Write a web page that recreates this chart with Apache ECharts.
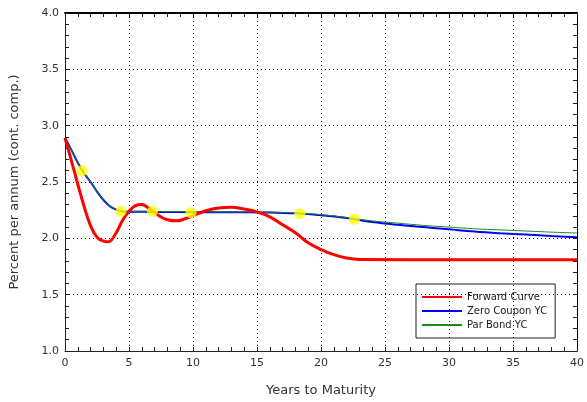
<!DOCTYPE html>
<html>
<head>
<meta charset="utf-8">
<script src="https://cdn.jsdelivr.net/npm/echarts@6/dist/echarts.min.js"></script>
<style>
  html, body { margin: 0; padding: 0; background: #fff; }
  #chart { width: 587px; height: 402px; }
</style>
</head>
<body>
<div id="chart"></div>
<script>
// yield curve data
const fwdYears = [0, 0.5, 1, 1.5, 2, 2.5, 3, 3.4, 4, 4.5, 5, 5.5, 6, 6.5, 7, 7.5, 8, 8.7, 9.3, 10, 11, 12, 13, 14, 15, 16, 17, 18, 19, 20, 21, 22, 23, 30, 40];
const fwdRates = [2.89, 2.69, 2.48, 2.28, 2.11, 2.01, 1.975, 1.97, 2.05, 2.16, 2.24, 2.29, 2.30, 2.27, 2.23, 2.19, 2.165, 2.155, 2.17, 2.20, 2.245, 2.27, 2.275, 2.26, 2.235, 2.19, 2.12, 2.05, 1.96, 1.90, 1.855, 1.825, 1.812, 1.81, 1.81];

const zeroYears = [0, 0.5, 1, 1.5, 2, 2.5, 3, 3.5, 4, 4.5, 5, 6, 8, 10, 12, 14, 16, 18, 20, 22, 24, 26, 28, 30, 32, 34, 36, 38, 40];
const zeroRates = [2.89, 2.785, 2.67, 2.575, 2.50, 2.415, 2.34, 2.285, 2.255, 2.238, 2.235, 2.235, 2.234, 2.232, 2.232, 2.232, 2.23, 2.222, 2.205, 2.18, 2.145, 2.12, 2.10, 2.08, 2.06, 2.045, 2.033, 2.02, 2.01];

const parYears = [0, 0.5, 1, 1.5, 2, 2.5, 3, 3.5, 4, 4.5, 5, 6, 8, 10, 12, 14, 16, 18, 20, 22, 24, 26, 28, 30, 32, 34, 36, 38, 40];
const parRates = [2.89, 2.785, 2.67, 2.575, 2.50, 2.415, 2.34, 2.285, 2.258, 2.242, 2.24, 2.24, 2.238, 2.236, 2.235, 2.234, 2.232, 2.225, 2.21, 2.185, 2.155, 2.135, 2.115, 2.10, 2.085, 2.075, 2.065, 2.055, 2.047];

const bondYears = [1.33, 4.37, 6.84, 9.85, 18.35, 22.6];
const bondRates = [2.60, 2.24, 2.24, 2.227, 2.219, 2.17];

const xTicks = [0, 5, 10, 15, 20, 25, 30, 35, 40];
const yTicks = ['1.0', '1.5', '2.0', '2.5', '3.0', '3.5', '4.0'];

const pairs = (xs, ys) => xs.map((x, i) => [x, ys[i]]);

const chart = echarts.init(document.getElementById('chart'));

const font = 'DejaVu Sans';

const baseAxis = {
  type: 'value',
  axisLine: { show: true, onZero: false, lineStyle: { color: '#222', width: 1 } },
  axisTick: { show: true, inside: true, length: 4, lineStyle: { color: '#222' } },
  minorTick: { show: true, splitNumber: 5, length: 4, lineStyle: { color: '#222' } },
  splitLine: { show: false }
};

const noSymbol = { opacity: 0 };

const option = {
  backgroundColor: '#fff',
  animation: false,
  grid: { left: 64, right: 10, top: 13, bottom: 46 },
  legend: {
    orient: 'vertical',
    left: 416,
    top: 284,
    padding: [8, 8, 8, 5],
    itemGap: 4,
    itemWidth: 40,
    itemHeight: 10,
    borderColor: '#222',
    borderWidth: 1,
    textStyle: { fontFamily: font, fontSize: 10, color: '#222' },
    data: [
      { name: 'Forward Curve', itemStyle: noSymbol },
      { name: 'Zero Coupon YC', itemStyle: noSymbol },
      { name: 'Par Bond YC', itemStyle: noSymbol }
    ]
  },
  xAxis: [
    Object.assign({}, baseAxis, {
      min: 0, max: 40, interval: 5,
      name: 'Years to Maturity',
      nameLocation: 'middle',
      nameGap: 33,
      nameTextStyle: { fontFamily: font, fontSize: 13, color: '#333' },
      axisLabel: {
        margin: 7, fontFamily: font, fontSize: 11, color: '#333',
        formatter: v => (xTicks.indexOf(v) >= 0 ? String(v) : '')
      },
      splitLine: { show: true, lineStyle: { color: '#000', type: [1, 3], width: 1 } }
    }),
    Object.assign({}, baseAxis, {
      min: 0, max: 40, interval: 5, position: 'top',
      axisLine: { show: true, onZero: false, lineStyle: { color: '#000', width: 2 } },
      axisLabel: { show: false }
    })
  ],
  yAxis: [
    Object.assign({}, baseAxis, {
      min: 1, max: 4, interval: 0.5,
      name: 'Percent per annum (cont. comp.)',
      nameLocation: 'middle',
      nameGap: 44,
      nameTextStyle: { fontFamily: font, fontSize: 13, color: '#333' },
      axisLabel: {
        margin: 6, fontFamily: font, fontSize: 11, color: '#333',
        formatter: v => yTicks[Math.round((v - 1) / 0.5)]
      },
      splitLine: { show: true, lineStyle: { color: '#000', type: [1, 3], width: 1 } }
    }),
    Object.assign({}, baseAxis, {
      min: 1, max: 4, interval: 0.5, position: 'right',
      axisLine: { show: true, onZero: false, lineStyle: { color: '#000', width: 1 } },
      axisLabel: { show: false }
    })
  ],
  series: [
    {
      name: 'Zero Coupon YC',
      type: 'line',
      data: pairs(zeroYears, zeroRates),
      smooth: 0.4,
      symbol: 'none',
      color: '#0000ff',
      lineStyle: { color: '#0000ff', width: 2 },
      z: 2
    },
    {
      name: 'Par Bond YC',
      type: 'line',
      data: pairs(parYears, parRates),
      smooth: 0.4,
      symbol: 'none',
      color: '#1a8a1a',
      lineStyle: { color: '#1a8a1a', width: 1 },
      z: 3
    },
    {
      name: 'Forward Curve',
      type: 'line',
      data: pairs(fwdYears, fwdRates),
      smooth: 0.4,
      symbol: 'none',
      color: '#ff0000',
      lineStyle: { color: '#ff0000', width: 3 },
      z: 4
    },
    {
      name: 'Bonds',
      type: 'scatter',
      data: pairs(bondYears, bondRates),
      symbolSize: 11,
      itemStyle: { color: '#ffff00' },
      z: 5
    }
  ]
};

chart.setOption(option);
</script>
</body>
</html>
